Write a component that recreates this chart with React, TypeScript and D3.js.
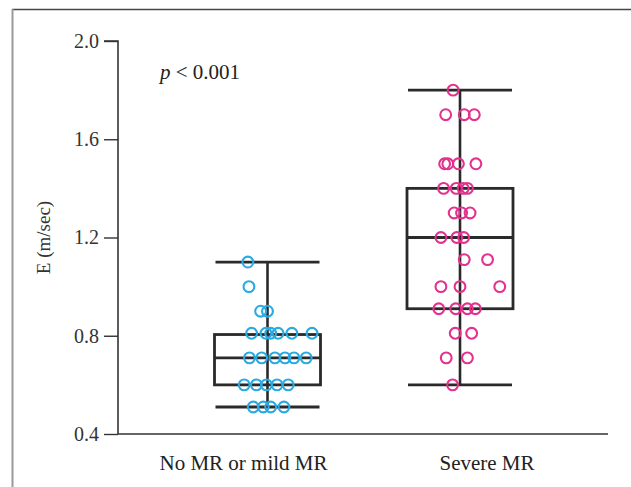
import * as React from "react";
import * as d3 from "d3";

// groups shown on the x axis
const categories = ["No MR or mild MR", "Severe MR"];
const colors = ["#29abe2", "#e3318e"];

// box stats per group: [min, q1, median, q3, max]
const boxStats = [
  [0.51, 0.6, 0.71, 0.805, 1.1],
  [0.6, 0.91, 1.2, 1.4, 1.8],
];

// individual E values, with horizontal spread
// (spread in units of the box half width)
const mildValues = [
  1.1, 1.0, 0.9, 0.9,
  0.81, 0.81, 0.81, 0.81, 0.81, 0.81,
  0.71, 0.71, 0.71, 0.71, 0.71, 0.71,
  0.6, 0.6, 0.6, 0.6, 0.6,
  0.51, 0.51, 0.51, 0.51,
];
const mildSpread = [
  -0.37, -0.35, -0.13, 0.0,
  -0.3, -0.03, 0.06, 0.2, 0.46, 0.84,
  -0.34, -0.11, 0.14, 0.33, 0.5, 0.73,
  -0.44, -0.21, -0.02, 0.18, 0.39,
  -0.27, -0.08, 0.06, 0.31,
];
const severeValues = [
  1.8,
  1.7, 1.7, 1.7,
  1.5, 1.5, 1.5, 1.5,
  1.4, 1.4, 1.4, 1.4,
  1.3, 1.3, 1.3,
  1.2, 1.2, 1.2,
  1.11, 1.11,
  1.0, 1.0, 1.0,
  0.91, 0.91, 0.91, 0.91,
  0.81, 0.81,
  0.71, 0.71,
  0.6,
];
const severeSpread = [
  -0.13,
  -0.27, 0.08, 0.27,
  -0.29, -0.23, -0.03, 0.3,
  -0.31, -0.07, 0.06, 0.14,
  -0.11, 0.03, 0.19,
  -0.36, -0.06, 0.07,
  0.08, 0.52,
  -0.36, 0.0, 0.75,
  -0.4, -0.08, 0.14, 0.29,
  -0.09, 0.22,
  -0.26, 0.14,
  -0.14,
];

const yTicks = [0.4, 0.8, 1.2, 1.6, 2.0];

const groups = [
  { values: mildValues, spread: mildSpread },
  { values: severeValues, spread: severeSpread },
];

const W = 631;
const H = 487;
const FONT = "'Liberation Serif', 'DejaVu Serif', serif";

const YAxis = ({ y, x0 }) => {
  const ref = React.useRef(null);
  React.useEffect(() => {
    const g = d3.select(ref.current);
    g.selectAll("*").remove();
    g.call(
      d3.axisLeft(y).tickValues(yTicks).tickFormat(d3.format(".1f")).tickSize(14).tickPadding(5)
    );
    g.select(".domain").attr("stroke", "#333").attr("stroke-width", 1.6).attr("d", `M-14,${y(2.0)}H0V${y(0.4)}`);
    g.selectAll(".tick line").attr("stroke", "#333").attr("stroke-width", 1.4);
    g.selectAll(".tick text")
      .attr("fill", "#333")
      .style("font-family", FONT)
      .style("font-size", "20px");
  }, [y]);
  return <g ref={ref} transform={`translate(${x0},0)`} />;
};

export default function App() {
  const margin = { left: 118, right: 23, top: 41, bottom: 53 };
  const y = d3.scaleLinear().domain([0.4, 2.0]).range([H - margin.bottom, margin.top]);
  const x = d3.scalePoint().domain(categories).range([267.5, 460]);
  const half = 53;
  const spreadScale = d3.scaleLinear().domain([-1, 1]).range([-half, half]);
  const capHalf = 52;
  const labelShift = [-24, 27];

  return (
    <svg width={W} height={H} style={{ position: "absolute", left: 0, top: 0 }}>
      <rect width={W} height={H} fill="#fff" />
      {/* frame */}
      <line x1={12} x2={W} y1={9.5} y2={9.5} stroke="#444" strokeWidth={1.5} />
      <line x1={12.5} x2={12.5} y1={9} y2={H} stroke="#999" strokeWidth={2} />

      <YAxis y={y} x0={margin.left} />
      <line
        x1={margin.left}
        x2={W - margin.right}
        y1={y(0.4)}
        y2={y(0.4)}
        stroke="#333"
        strokeWidth={1.6}
      />

      <text
        transform={`translate(43,${(y(0.4) + y(2.0)) / 2}) rotate(-90)`}
        textAnchor="middle"
        dy="0.35em"
        fontFamily={FONT}
        fontSize={19}
        fill="#333"
      >
        E (m/sec)
      </text>

      <text x={160} y={79} fontFamily={FONT} fontSize={21} fill="#222">
        <tspan fontStyle="italic">p</tspan> &lt; 0.001
      </text>

      {categories.map((c, i) => {
        const cx = x(c);
        const [mn, q1, md, q3, mx] = boxStats[i];
        const stroke = "#2a2a2a";
        return (
          <g key={c}>
            <line x1={cx} x2={cx} y1={y(mx)} y2={y(mn)} stroke={stroke} strokeWidth={2.6} />
            <line x1={cx - capHalf} x2={cx + capHalf} y1={y(mx)} y2={y(mx)} stroke={stroke} strokeWidth={2.8} />
            <line x1={cx - capHalf} x2={cx + capHalf} y1={y(mn)} y2={y(mn)} stroke={stroke} strokeWidth={2.8} />
            <rect
              x={cx - half}
              y={y(q3)}
              width={half * 2}
              height={y(q1) - y(q3)}
              fill="none"
              stroke={stroke}
              strokeWidth={2.8}
            />
            <line x1={cx - half} x2={cx + half} y1={y(md)} y2={y(md)} stroke={stroke} strokeWidth={2.8} />
            {groups[i].values.map((v, j) => (
              <circle
                key={j}
                cx={cx + spreadScale(groups[i].spread[j])}
                cy={y(v)}
                r={5.4}
                fill="none"
                stroke={colors[i]}
                strokeWidth={2.1}
              />
            ))}
            <text
              x={cx + labelShift[i]}
              y={470}
              textAnchor="middle"
              fontFamily={FONT}
              fontSize={21}
              fill="#222"
            >
              {c}
            </text>
          </g>
        );
      })}
    </svg>
  );
}
